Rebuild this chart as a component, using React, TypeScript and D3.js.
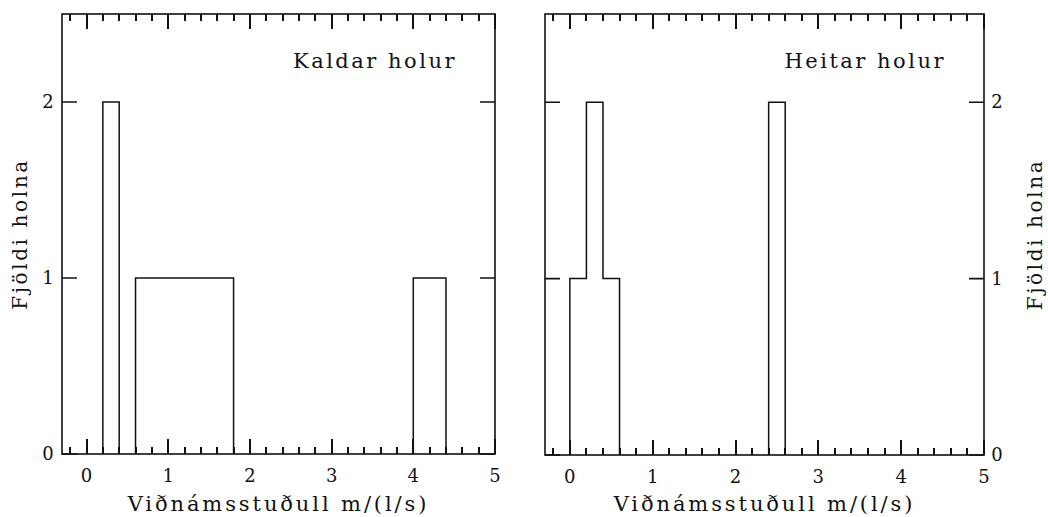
import React from "react";
import * as d3 from "d3";

// Data: histogram bins (start, end, count)
const kaldarStart = [0.2, 0.6, 4.0];
const kaldarEnd = [0.4, 1.8, 4.4];
const kaldarCount = [2, 1, 1];

const heitarStart = [0.0, 0.2, 0.4, 2.4];
const heitarEnd = [0.2, 0.4, 0.6, 2.6];
const heitarCount = [1, 2, 1, 2];

const xMajorTicks = [0, 1, 2, 3, 4, 5];
const xMinorTicks = [-0.2, 0.2, 0.4, 0.6, 0.8, 1.2, 1.4, 1.6, 1.8, 2.2, 2.4, 2.6, 2.8, 3.2, 3.4, 3.6, 3.8, 4.2, 4.4, 4.6, 4.8];
const yTicks = [0, 1, 2];
const xDomain: [number, number] = [-0.3, 5];
const yDomain: [number, number] = [0, 2.5];

const panelTitles = ["Kaldar holur", "Heitar holur"];
const xTitle = "Viðnámsstuðull m/(l/s)";
const yTitle = "Fjöldi holna";

const FONT = "'DejaVu Serif', serif";
const INK = "#111";

function outline(starts: number[], ends: number[], counts: number[]): [number, number][][] {
  const groups: [number, number][][] = [];
  let cur: [number, number][] | null = null;
  let lastEnd = NaN;
  starts.forEach((s, i) => {
    if (cur === null || Math.abs(s - lastEnd) > 1e-9) {
      if (cur) { cur.push([lastEnd, 0]); groups.push(cur); }
      cur = [[s, 0]];
    }
    cur.push([s, counts[i]]);
    cur.push([ends[i], counts[i]]);
    lastEnd = ends[i];
  });
  if (cur) { (cur as [number, number][]).push([lastEnd, 0]); groups.push(cur); }
  return groups;
}

function Panel({ x0, x1, top, bottom, starts, ends, counts, title, side }: any) {
  const x = d3.scaleLinear().domain(xDomain).range([x0, x1]);
  const y = d3.scaleLinear().domain(yDomain).range([bottom, top]);
  const line = d3.line<[number, number]>().x((d) => x(d[0])).y((d) => y(d[1]));
  const groups = outline(starts, ends, counts);
  const majLen = 15, minLen = 7, yLen = 15;
  const cx = (x0 + x1) / 2;
  const cy = (top + bottom) / 2;
  const labelX = side === "left" ? x0 - 14 : x1 + 13;
  const yTitleX = side === "left" ? 20 : 1035;

  const xt = d3.path();
  xMajorTicks.forEach((t) => {
    const px = Math.round(x(t));
    xt.moveTo(px, bottom); xt.lineTo(px, bottom - majLen);
    xt.moveTo(px, top); xt.lineTo(px, top + majLen);
  });
  xMinorTicks.forEach((t) => {
    const px = Math.round(x(t));
    xt.moveTo(px, bottom); xt.lineTo(px, bottom - minLen);
    xt.moveTo(px, top); xt.lineTo(px, top + minLen);
  });
  const yt = d3.path();
  yTicks.forEach((t) => {
    yt.moveTo(x0, y(t)); yt.lineTo(x0 + yLen, y(t));
    yt.moveTo(x1, y(t)); yt.lineTo(x1 - yLen, y(t));
  });

  return (
    <g>
      <rect x={x0} y={top} width={x1 - x0} height={bottom - top} fill="none" stroke={INK} strokeWidth={1.6} />
      <path d={xt.toString()} fill="none" stroke={INK} strokeWidth={2} />
      <path d={yt.toString()} fill="none" stroke={INK} strokeWidth={1.6} />
      {xMajorTicks.map((t) => (
        <text key={"M" + t} x={x(t)} y={bottom + 28} textAnchor="middle" fontFamily={FONT} fontSize={18} fill={INK}>{t}</text>
      ))}
      {yTicks.map((t) => (
        <text key={"y" + t} x={labelX} y={y(t) + 6} textAnchor="middle" fontFamily={FONT} fontSize={18} fill={INK}>{t}</text>
      ))}
      {groups.map((g, i) => (
        <path key={i} d={line(g) || ""} fill="none" stroke={INK} strokeWidth={1.5} />
      ))}
      <text x={x1 - 38} y={68} textAnchor="end" fontFamily={FONT} fontSize={21} letterSpacing={2.5} fill={INK}>{title}</text>
      <text x={cx} y={511} textAnchor="middle" fontFamily={FONT} fontSize={21} letterSpacing={2.9} fill={INK}>{xTitle}</text>
      <text transform={`translate(${yTitleX},${cy}) rotate(-90)`} x={0} y={0} dy="0.35em" textAnchor="middle" fontFamily={FONT} fontSize={20} letterSpacing={2.6} fill={INK}>{yTitle}</text>
    </g>
  );
}

export default function App() {
  return (
    <svg width={1048} height={517} style={{ position: "absolute", left: 0, top: 0, background: "#fff" }}>
      <rect x={0} y={0} width={1048} height={517} fill="#fff" />
      <Panel x0={62} x1={495} top={14} bottom={454} starts={kaldarStart} ends={kaldarEnd} counts={kaldarCount} title={panelTitles[0]} side="left" />
      <Panel x0={545} x1={984} top={14} bottom={455} starts={heitarStart} ends={heitarEnd} counts={heitarCount} title={panelTitles[1]} side="right" />
    </svg>
  );
}
